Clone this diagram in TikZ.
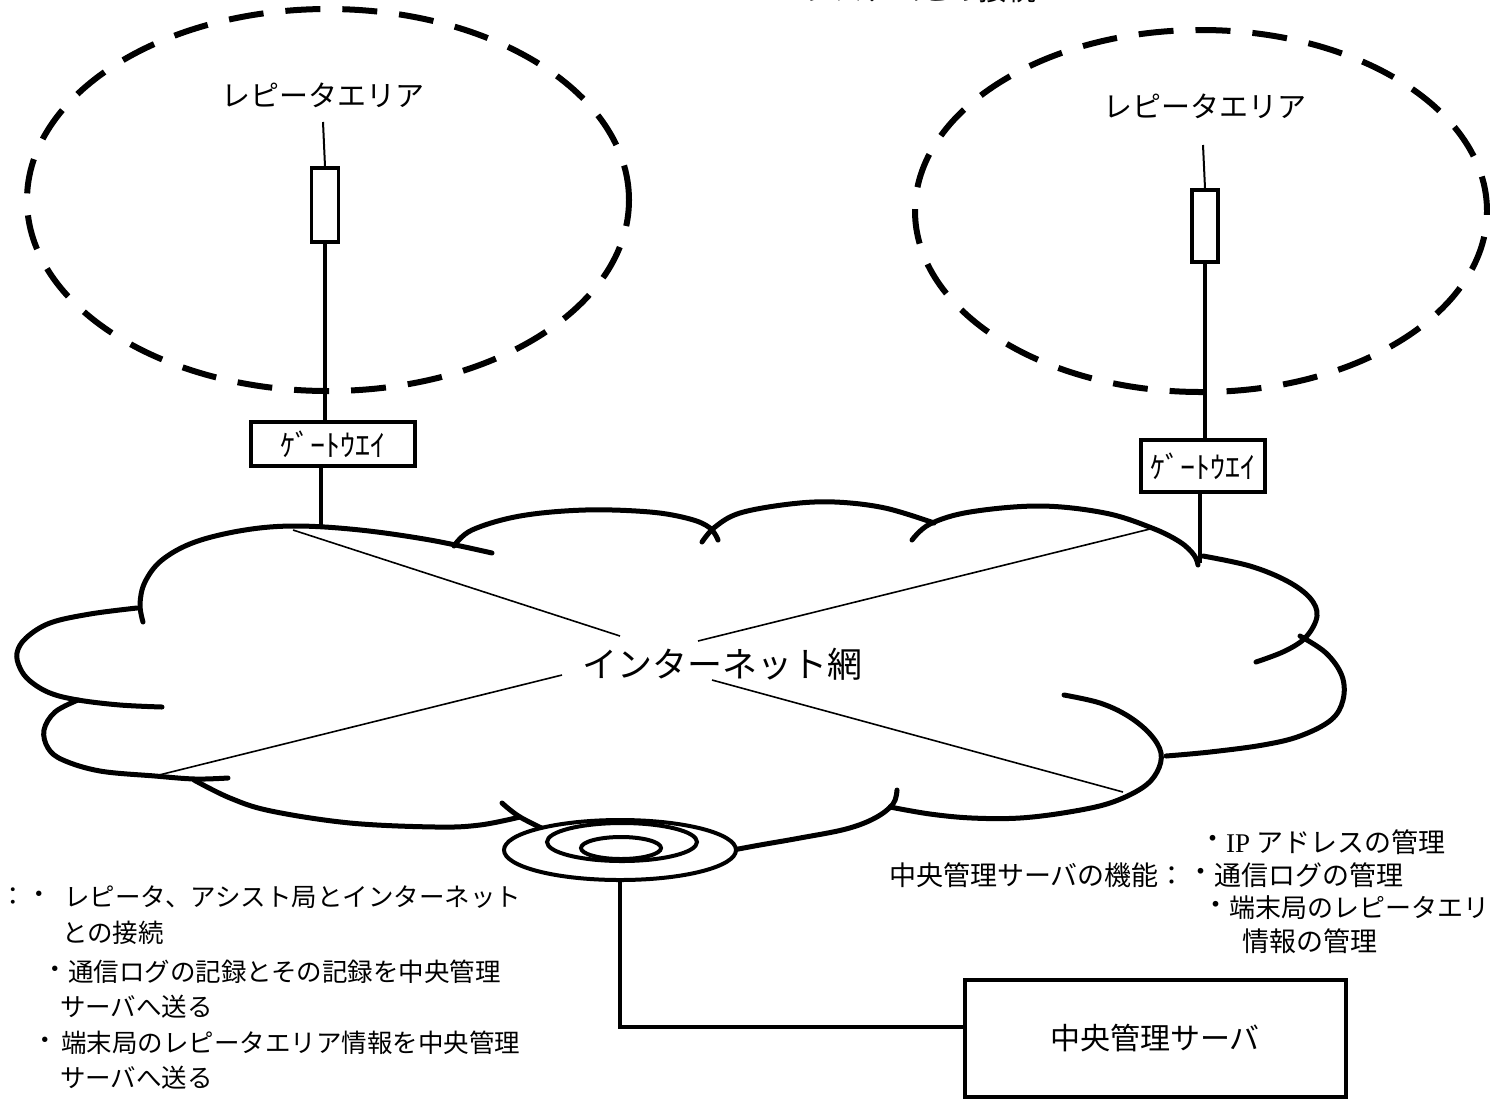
\documentclass[tikz,border=0pt]{standalone}
\usepackage{fontspec}
\setmainfont{Noto Sans CJK JP}
\newfontfamily\lserif{Liberation Serif}
\usetikzlibrary{shapes.geometric}
\begin{document}
\begin{tikzpicture}[x=1pt,y=-1pt,
  cloudline/.style={line width=5pt, line cap=round, line join=round},
  thinline/.style={line width=1.6pt},
  area/.style={line width=6pt, dash pattern=on 35pt off 22pt},
  repbox/.style={draw, line width=3.5pt, fill=white, inner sep=0pt, minimum width=27pt, minimum height=74pt},
  gwbox/.style={draw, line width=4pt, fill=white, inner sep=0pt, font=\fontsize{30}{34}\selectfont},
  srvbox/.style={draw, line width=4pt, inner sep=0pt, minimum width=381pt, minimum height=117pt, font=\fontsize{30}{36}\selectfont},
  lbl/.style={inner sep=0pt, font=\fontsize{29}{34}\selectfont},
  big/.style={inner sep=0pt, font=\fontsize{35}{40}\selectfont},
  note/.style={inner sep=0pt, anchor=west, font=\fontsize{25.5}{30}\selectfont},
  rnote/.style={inner sep=0pt, font=\fontsize{27}{32}\selectfont},
  link/.style={line width=3.5pt},
  wire/.style={line width=2pt}
]
\useasboundingbox (0,0) rectangle (1490,1104);
\fill[white] (0,0) rectangle (1490,1104);

% clipped heading at the very top
\begin{scope}
\clip (0,0) rectangle (1490,1104);
\node[lbl] (heading) at (921,-11) {システムとの接続};
\end{scope}

% repeater areas
\draw[area] (328,200) ellipse [x radius=301pt, y radius=191pt];
\draw[area] (1201,211) ellipse [x radius=286pt, y radius=181pt];
\node[lbl] (areaL) at (323,95) {レピータエリア};
\node[lbl] (areaR) at (1205,106) {レピータエリア};

% left repeater and gateway
\coordinate (ant1) at (323,122);
\node[repbox] (rep1) at (325,205) {};
\node[gwbox, minimum width=164pt, minimum height=44pt] (gw1) at (333,444) {ｹﾞｰﾄｳｴｲ};
\coordinate (j1) at (321,526);
\draw[wire] (ant1) -- (rep1.north);
\draw[link] (rep1.south) -- (rep1.south |- gw1.north);
\draw[link] (j1 |- gw1.south) -- (j1);

% right repeater and gateway
\coordinate (ant2) at (1203,145);
\node[repbox, minimum width=26pt, minimum height=72pt] (rep2) at (1205,226) {};
\node[gwbox, minimum width=124pt, minimum height=52pt] (gw2) at (1203,466) {ｹﾞｰﾄｳｴｲ};
\coordinate (j2) at (1200,563);
\draw[wire] (ant2) -- (rep2.north);
\draw[link] (rep2.south) -- (rep2.south |- gw2.north);
\draw[link] (j2 |- gw2.south) -- (j2);

% cloud outline (separate lobes)
\draw[cloudline] plot[smooth, tension=0.6] coordinates {(143,622) (140,604) (145,582) (162,560) (195,542) (245,530) (296,526) (360,530) (430,540) (492,553)};
\draw[cloudline] plot[smooth, tension=0.6] coordinates {(454,546) (472,530) (520,516) (585,510) (650,512) (690,519) (710,528) (718,540)};
\draw[cloudline] plot[smooth, tension=0.6] coordinates {(702,542) (715,527) (740,513) (790,504) (835,502) (885,508) (934,523)};
\draw[cloudline] plot[smooth, tension=0.6] coordinates {(912,540) (930,524) (970,512) (1040,506) (1105,513) (1152,528) (1180,542) (1194,555) (1198,565)};
\draw[cloudline] plot[smooth, tension=0.6] coordinates {(1203,556) (1250,566) (1287,581) (1310,598) (1317,616) (1306,637) (1285,651) (1256,662)};
\draw[cloudline] plot[smooth, tension=0.6] coordinates {(1300,636) (1326,653) (1342,676) (1343,700) (1331,720) (1300,736) (1263,745) (1210,752) (1166,756)};
\draw[cloudline] plot[smooth, tension=0.6] coordinates {(1064,695) (1100,703) (1128,716) (1150,734) (1161,753) (1157,772) (1142,788) (1110,803) (1069,812) (1020,818) (972,818) (930,814) (890,807)};
\draw[cloudline] plot[smooth, tension=0.6] coordinates {(897,790) (893,804) (875,818) (846,829) (800,838) (760,845) (733,850)};
\draw[cloudline] plot[smooth, tension=0.6] coordinates {(194,780) (230,798) (271,811) (350,823) (436,827) (480,825) (520,817)};
\draw[cloudline] plot[smooth, tension=0.6] coordinates {(502,803) (520,817) (550,832)};
\draw[cloudline] plot[smooth, tension=0.6] coordinates {(78,700) (55,712) (44,730) (48,748) (63,760) (100,771) (155,776) (195,779) (228,778)};
\draw[cloudline] plot[smooth, tension=0.6] coordinates {(137,608) (90,614) (50,623) (26,638) (17,653) (20,668) (30,681) (50,693) (78,700) (120,705) (162,707)};

% diagonals across the cloud
\coordinate (d1a) at (293,530);
\coordinate (d1b) at (620,636);
\coordinate (d1c) at (712,680);
\coordinate (d1d) at (1123,792);
\coordinate (d2a) at (155,776);
\coordinate (d2b) at (562,675);
\coordinate (d2c) at (698,641);
\coordinate (d2d) at (1154,528);
\draw[thinline] (d1a) -- (d1b);
\draw[thinline] (d1c) -- (d1d);
\draw[thinline] (d2a) -- (d2b);
\draw[thinline] (d2c) -- (d2d);
\node[big] (net) at (722,664) {インターネット網};

% router
\node[draw, ellipse, line width=4pt, fill=white, minimum width=232pt, minimum height=60pt, inner sep=0pt] (router) at (620,850) {};
\draw[line width=4pt] (622,842) ellipse [x radius=75pt, y radius=19pt];
\draw[line width=4pt] (621,848) ellipse [x radius=40pt, y radius=11pt];

% central server
\node[srvbox] (server) at (1155,1038) {中央管理サーバ};
\draw[line width=4pt] (router.south) |- ([yshift=11pt]server.west);

% left notes
\node[note] (c0) at (0,897) {：};
\node[note] (b1) at (26,897) {・};
\node[note] (t1) at (64,897) {レピータ、アシスト局とインターネット};
\node[note] (t2) at (62,933) {との接続};
\node[note] (b3) at (42,972) {・};
\node[note] (t3) at (68,972) {通信ログの記録とその記録を中央管理};
\node[note] (t4) at (60,1007) {サーバへ送る};
\node[note] (b5) at (32,1043) {・};
\node[note] (t5) at (61,1043) {端末局のレピータエリア情報を中央管理};
\node[note] (t6) at (60,1078) {サーバへ送る};

% right notes
\node[rnote, anchor=west] (fn) at (889,875) {中央管理サーバの機能：};
\node[rnote, anchor=west] (rb1) at (1199,842) {・};
\node[rnote, anchor=west] (r1) at (1226,842) {{\lserif IP} アドレスの管理};
\node[rnote, anchor=west] (rb2) at (1187,875) {・};
\node[rnote, anchor=west] (r2) at (1214,875) {通信ログの管理};
\node[rnote, anchor=west] (rb3) at (1202,908) {・};
\node[rnote, anchor=west, font=\fontsize{26}{31}\selectfont] (r3) at (1229,908) {端末局のレピータエリ};
\node[rnote, anchor=west] (r4) at (1242,941) {情報の管理};
\end{tikzpicture}
\end{document}
